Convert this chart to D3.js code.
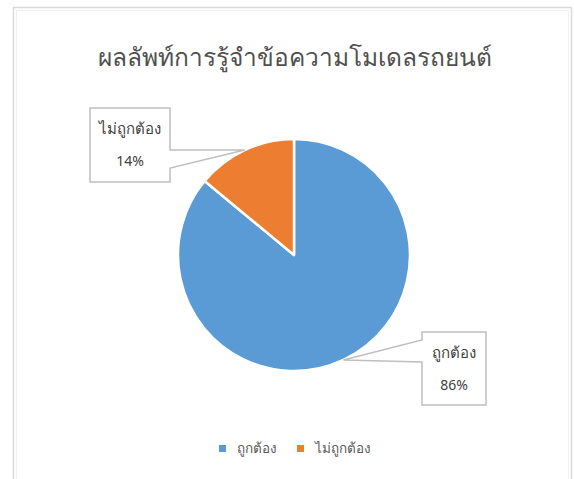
<!DOCTYPE html>
<html>
<head>
<meta charset="utf-8">
<script src="https://cdnjs.cloudflare.com/ajax/libs/d3/7.8.5/d3.min.js"></script>
<style>
  body { margin: 0; background: #fff; }
  text { font-family: "Noto Sans", "DejaVu Sans", sans-serif; }
</style>
</head>
<body>
<script>
// data
var categories = ["ถูกต้อง", "ไม่ถูกต้อง"];
var values = [86, 14];
var colors = ["#5B9BD5", "#ED7D31"];
var title = "ผลลัพท์การรู้จำข้อความโมเดลรถยนต์";

var W = 574, H = 479;
var cx = 294, cy = 255, r = 116;

var svg = d3.select("body").append("svg")
    .attr("width", W)
    .attr("height", H);

// chart frame
svg.append("rect")
    .attr("x", 13.5).attr("y", 7.5)
    .attr("width", 558).attr("height", 480)
    .attr("fill", "#fff")
    .attr("stroke", "#d9d9d9")
    .attr("stroke-width", 1.5);
svg.append("rect")
    .attr("x", 16.5).attr("y", 10.5)
    .attr("width", 552).attr("height", 480)
    .attr("fill", "none")
    .attr("stroke", "#f0f0f0")
    .attr("stroke-width", 1);

svg.append("text")
    .attr("x", cx + 1).attr("y", 66)
    .attr("text-anchor", "middle")
    .attr("font-size", 24.5)
    .attr("fill", "#505050")
    .text(title);

var pie = d3.pie().sort(null).value(d => d);
var arcs = pie(values);
var arc = d3.arc().innerRadius(0).outerRadius(r);

var g = svg.append("g").attr("transform", "translate(" + cx + "," + cy + ")");

g.selectAll("path.slice")
  .data(arcs)
  .enter().append("path")
    .attr("class", "slice")
    .attr("d", arc)
    .attr("fill", (d, i) => colors[i])
    .attr("stroke", "#fff")
    .attr("stroke-width", 2.5)
    .attr("stroke-linejoin", "round");

// callout labels: box position, pointer tip on the arc edge
var boxes = [
  {x: 422, y: 332, w: 64, h: 73, side: "left", b0: 340, b1: 362},
  {x: 90, y: 108, w: 80, h: 74, side: "right", b0: 150, b1: 168}
];

var total = d3.sum(values);
arcs.forEach(function(a, i) {
  var mid = (a.startAngle + a.endAngle) / 2;
  var tx = cx + Math.sin(mid) * r;
  var ty = cy - Math.cos(mid) * r;
  var b = boxes[i];
  var p;
  if (b.side === "left") {
    p = [[b.x, b.y], [b.x + b.w, b.y], [b.x + b.w, b.y + b.h], [b.x, b.y + b.h],
         [b.x, b.b1], [tx, ty], [b.x, b.b0]];
  } else {
    p = [[b.x, b.y], [b.x + b.w, b.y], [b.x + b.w, b.b0], [tx, ty], [b.x + b.w, b.b1],
         [b.x + b.w, b.y + b.h], [b.x, b.y + b.h]];
  }
  svg.append("path")
      .attr("d", d3.line()(p) + "Z")
      .attr("fill", "#fff")
      .attr("stroke", "#bfbfbf")
      .attr("stroke-width", 1.5);
  svg.append("text")
      .attr("x", b.x + b.w / 2).attr("y", b.y + 26)
      .attr("text-anchor", "middle")
      .attr("font-size", 15)
      .attr("fill", "#404040")
      .text(categories[i]);
  svg.append("text")
      .attr("x", b.x + b.w / 2).attr("y", b.y + 58)
      .attr("text-anchor", "middle")
      .attr("font-size", 14)
      .attr("fill", "#404040")
      .text(Math.round(values[i] / total * 100) + "%");
});

// legend
var legendX = [219, 297];
var leg = svg.selectAll("g.legend")
  .data(categories)
  .enter().append("g")
    .attr("class", "legend")
    .attr("transform", (d, i) => "translate(" + legendX[i] + ",445)");
leg.append("rect")
    .attr("width", 7).attr("height", 7)
    .attr("fill", (d, i) => colors[i]);
leg.append("text")
    .attr("x", 18).attr("y", 8)
    .attr("font-size", 13.5)
    .attr("fill", "#595959")
    .text(d => d);
</script>
</body>
</html>
